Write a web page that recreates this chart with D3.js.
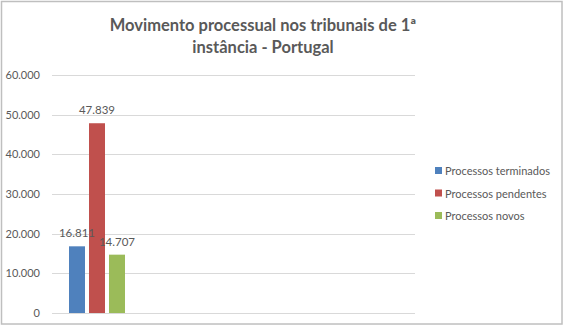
<!DOCTYPE html>
<html>
<head>
<meta charset="utf-8">
<script src="https://cdn.jsdelivr.net/npm/d3@7"></script>
<style>
  html, body { margin: 0; padding: 0; background: #fff; }
  svg { display: block; }
  text { font-family: Lato, "Open Sans", "Liberation Sans", sans-serif; fill: #595959; }
</style>
</head>
<body>
<svg id="chart" width="564" height="326"></svg>
<script>
// Category slots on the x axis (only the first holds data; labels are not shown)
const categories = ["s1", "s2", "s3", "s4"];
const seriesNames = ["Processos terminados", "Processos pendentes", "Processos novos"];
const seriesColors = ["#4f81bd", "#c0504d", "#9bbb59"];
// values per series, one entry per category slot
const terminados = [16811, null, null, null];
const pendentes = [47839, null, null, null];
const novos = [14707, null, null, null];
const yTicks = [0, 10000, 20000, 30000, 40000, 50000, 60000];

const seriesValues = [terminados, pendentes, novos];
const W = 564, H = 326;
const svg = d3.select("#chart");

// outer frame
svg.append("rect").attr("x", 1.5).attr("y", 1.5).attr("width", W - 3.5).attr("height", H - 3.5)
  .attr("fill", "#fff").attr("stroke", "#bfbfbf").attr("stroke-width", 1.5);

// title
const title = svg.append("text").attr("text-anchor", "middle")
  .attr("font-size", 16.5).attr("font-weight", "bold");
title.append("tspan").attr("x", 263).attr("y", 31).text("Movimento processual nos tribunais de 1ª");
title.append("tspan").attr("x", 263).attr("y", 53).text("instância - Portugal");

const plot = { left: 52, right: 415, top: 75, bottom: 313 };
const y = d3.scaleLinear().domain([0, 60000]).range([plot.bottom, plot.top]);
const x0 = d3.scaleBand().domain(categories).range([plot.left, plot.right]).paddingInner(0).paddingOuter(0);
const x1 = d3.scaleBand().domain(seriesNames).range([17, 73]).paddingInner(0.2);

const fmt = v => d3.format(",")(v).replace(/,/g, ".");

// gridlines
svg.append("g").selectAll("line").data(yTicks).join("line")
  .attr("x1", plot.left).attr("x2", plot.right)
  .attr("y1", d => Math.round(y(d)) + 0.5).attr("y2", d => Math.round(y(d)) + 0.5)
  .attr("stroke", "#d9d9d9").attr("stroke-width", 1);

// y axis labels
const yAxis = d3.axisLeft(y).tickValues(yTicks).tickFormat(d => fmt(d)).tickSize(0).tickPadding(0);
const gy = svg.append("g").attr("transform", `translate(40,0)`).call(yAxis);
gy.select(".domain").remove();
gy.selectAll("text").attr("font-size", 11).attr("fill", "#595959")
  .style("font-family", "Lato, 'Open Sans', sans-serif");

// flatten the values into drawable points
const points = [];
categories.forEach((cat, ci) => {
  seriesNames.forEach((name, si) => {
    const v = seriesValues[si][ci];
    if (v != null) points.push({ cat, name, si, v });
  });
});

// bars
svg.append("g").selectAll("rect").data(points).join("rect")
  .attr("x", d => x0(d.cat) + x1(d.name)).attr("width", x1.bandwidth())
  .attr("y", d => y(d.v)).attr("height", d => y(0) - y(d.v))
  .attr("fill", d => seriesColors[d.si]);

// value labels, drawn above the bars
svg.append("g").selectAll("text").data(points).join("text")
  .attr("x", d => x0(d.cat) + x1(d.name) + x1.bandwidth() / 2)
  .attr("y", d => y(d.v) - 9)
  .attr("text-anchor", "middle").attr("font-size", 11.5).attr("fill", "#404040")
  .text(d => fmt(d.v));

// legend
const legend = svg.append("g").selectAll("g").data(seriesNames).join("g")
  .attr("transform", (d, i) => `translate(435,${171 + i * 22.5})`);
legend.append("rect").attr("x", 0).attr("y", -4).attr("width", 7).attr("height", 7)
  .attr("fill", (d, i) => seriesColors[i]);
legend.append("text").attr("x", 10).attr("y", 4).attr("font-size", 11).text(d => d);
</script>
</body>
</html>
